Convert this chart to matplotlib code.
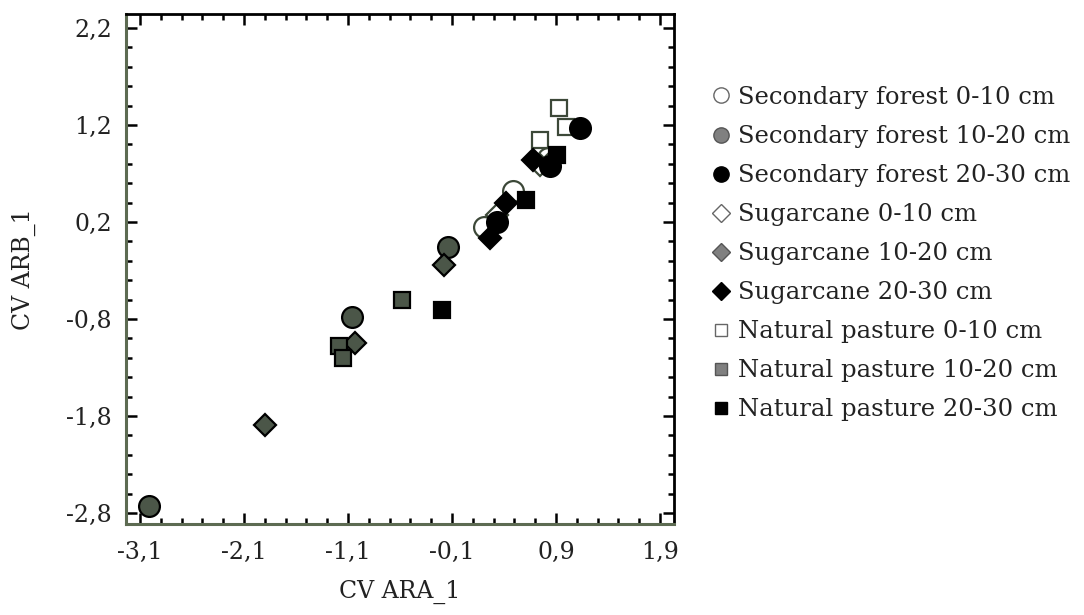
import numpy as np
import matplotlib
matplotlib.use("Agg")
import matplotlib.pyplot as plt
from matplotlib.ticker import FixedLocator, FuncFormatter

# ── Data (canonical variate scores) ──────────────────────────────────────────

sf_0_10_x = [0.49, 0.21, 0.82]
sf_0_10_y = [0.52, 0.15, 0.86]
sf_10_20_x = [-0.14, -1.06, -3.01]
sf_10_20_y = [-0.06, -0.78, -2.73]
sf_20_30_x = [1.13, 0.84, 0.33]
sf_20_30_y = [1.17, 0.78, 0.20]

sc_0_10_x = [0.33, 0.87, 0.75]
sc_0_10_y = [0.27, 0.84, 0.79]
sc_10_20_x = [-0.18, -1.03, -1.90]
sc_10_20_y = [-0.24, -1.05, -1.89]
sc_20_30_x = [0.68, 0.42, 0.27]
sc_20_30_y = [0.84, 0.40, 0.04]

np_0_10_x = [0.93, 1.00, 0.75]
np_0_10_y = [1.38, 1.18, 1.05]
np_10_20_x = [-0.58, -1.19, -1.15]
np_10_20_y = [-0.60, -1.08, -1.20]
np_20_30_x = [-0.20, 0.61, 0.91]
np_20_30_y = [-0.71, 0.43, 0.89]

labels = [
    "Secondary forest 0-10 cm", "Secondary forest 10-20 cm", "Secondary forest 20-30 cm",
    "Sugarcane 0-10 cm", "Sugarcane 10-20 cm", "Sugarcane 20-30 cm",
    "Natural pasture 0-10 cm", "Natural pasture 10-20 cm", "Natural pasture 20-30 cm",
]

x_ticks = [-3.1, -2.1, -1.1, -0.1, 0.9, 1.9]
y_ticks = [-2.8, -1.8, -0.8, 0.2, 1.2, 2.2]

# ── Styling ──────────────────────────────────────────────────────────────────

plt.rcParams["font.family"] = ["DejaVu Serif"]

OPEN = "white"
GREY = "#4b5648"
BLACK = "black"
SPINE = "#5d6b52"
TEXT = "#222222"

groups = [
    (sf_0_10_x, sf_0_10_y, "o", OPEN, 15),
    (sf_10_20_x, sf_10_20_y, "o", GREY, 15),
    (sf_20_30_x, sf_20_30_y, "o", BLACK, 15),
    (sc_0_10_x, sc_0_10_y, "D", OPEN, 11),
    (sc_10_20_x, sc_10_20_y, "D", GREY, 11),
    (sc_20_30_x, sc_20_30_y, "D", BLACK, 11),
    (np_0_10_x, np_0_10_y, "s", OPEN, 11),
    (np_10_20_x, np_10_20_y, "s", GREY, 11),
    (np_20_30_x, np_20_30_y, "s", BLACK, 11),
]

fig = plt.figure(figsize=(10.84, 6.15), dpi=100)
ax = fig.add_axes([0.1162, 0.148, 0.5056, 0.8292])

# depth order: 0-10 first, then 10-20, then 20-30 on top
for depth in range(3):
    for i in range(depth, 9, 3):
        gx, gy, mk, fc, ms = groups[i]
        ec = "#3c4838" if fc == OPEN else "black"
        ax.plot(gx, gy, linestyle="none", marker=mk, markersize=ms,
                markerfacecolor=fc, markeredgecolor=ec, markeredgewidth=1.6,
                label=labels[i], zorder=3 + depth)

ax.set_xlim(-3.235, 2.035)
ax.set_ylim(-2.913, 2.344)

ax.xaxis.set_major_locator(FixedLocator(x_ticks))
ax.yaxis.set_major_locator(FixedLocator(y_ticks))
ax.xaxis.set_minor_locator(FixedLocator(np.round(np.arange(-3.1, 2.0, 0.2), 2)))
ax.yaxis.set_minor_locator(FixedLocator(np.round(np.arange(-2.8, 2.3, 0.2), 2)))
comma = FuncFormatter(lambda v, pos: f"{v:.1f}".replace(".", ","))
ax.xaxis.set_major_formatter(comma)
ax.yaxis.set_major_formatter(comma)

ax.tick_params(which="both", direction="in", top=True, right=True,
               color="black", labelsize=17, labelcolor=TEXT)
ax.tick_params(which="major", length=8, width=1.8)
ax.tick_params(which="minor", length=4, width=1.8)
ax.tick_params(axis="x", which="major", pad=12)
ax.tick_params(axis="y", which="major", pad=10)

for side in ["left", "bottom"]:
    ax.spines[side].set_color(SPINE)
    ax.spines[side].set_linewidth(2.2)
for side in ["top", "right"]:
    ax.spines[side].set_color("black")
    ax.spines[side].set_linewidth(2.0)

ax.set_xlabel("CV ARA_1", fontsize=17, color=TEXT, labelpad=12)
ax.set_ylabel("CV ARB_1", fontsize=17, color=TEXT, labelpad=22)

# legend in the original order
handles, labs = ax.get_legend_handles_labels()
order = [labs.index(l) for l in labels]
leg = fig.legend([handles[k] for k in order], labels, loc="upper left",
                 bbox_to_anchor=(0.646, 0.876), frameon=False, fontsize=17.5,
                 handletextpad=0.25, labelspacing=0.66, handlelength=0.9,
                 borderaxespad=0)
for h, l in zip(leg.legend_handles, labels):
    h.set_markersize(11 if h.get_marker() == "o" else 9)
    h.set_markeredgewidth(1.0)
    if "10-20" in l:
        h.set_markerfacecolor("#808080")
        h.set_markeredgecolor("#555555")
    elif "0-10" in l:
        h.set_markeredgecolor("#666666")
for t in leg.get_texts():
    t.set_color(TEXT)

fig.savefig("out.png", dpi=100)
